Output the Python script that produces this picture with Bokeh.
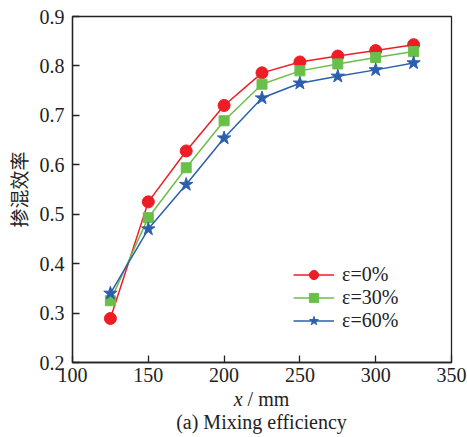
from bokeh.plotting import figure
from bokeh.models import Range1d, Legend, LegendItem, FixedTicker, Div
from bokeh.layouts import column
from bokeh.embed import file_html
from bokeh.resources import INLINE

x_mm = [125, 150, 175, 200, 225, 250, 275, 300, 325]
eff_0 = [0.289, 0.525, 0.628, 0.720, 0.786, 0.808, 0.820, 0.831, 0.843]
eff_30 = [0.325, 0.493, 0.594, 0.689, 0.763, 0.790, 0.804, 0.817, 0.829]
eff_60 = [0.340, 0.470, 0.560, 0.654, 0.735, 0.765, 0.779, 0.792, 0.806]
labels = ["ε=0%", "ε=30%", "ε=60%"]
x_ticks = [100, 150, 200, 250, 300, 350]
y_ticks = [0.2, 0.3, 0.4, 0.5, 0.6, 0.7, 0.8, 0.9]

SERIF = "'Liberation Serif', 'Times New Roman', serif"
FS = "20px"

p = figure(width=467, height=388, output_backend="svg", toolbar_location=None,
           x_range=Range1d(100, 350), y_range=Range1d(0.2, 0.9),
           min_border_left=72, min_border_right=16, min_border_top=16, min_border_bottom=26)
p.grid.visible = False
p.outline_line_color = "#222222"
p.outline_line_width = 1.3
p.background_fill_color = "white"
p.border_fill_color = "white"

for ax in (p.xaxis[0], p.yaxis[0]):
    ax.major_tick_in = 7
    ax.major_tick_out = 0
    ax.minor_tick_line_color = None
    ax.axis_line_color = "#222222"
    ax.axis_line_width = 1.3
    ax.major_tick_line_width = 1.3
    ax.major_tick_line_color = "#222222"
    ax.major_label_text_font = SERIF
    ax.major_label_text_font_size = FS
    ax.major_label_text_color = "#222222"

p.xaxis.ticker = FixedTicker(ticks=x_ticks)
p.yaxis.ticker = FixedTicker(ticks=y_ticks)
p.xaxis.major_label_standoff = 5
p.yaxis.major_label_standoff = 8
p.yaxis.axis_label = "掺混效率"
p.yaxis.axis_label_text_font = "Noto Sans CJK SC"
p.yaxis.axis_label_text_font_size = "19px"
p.yaxis.axis_label_text_font_style = "normal"
p.yaxis.axis_label_text_color = "#222222"
p.yaxis.axis_label_standoff = 5

red, green, blue = "#ee1c25", "#6abf4b", "#2b5fae"

l0 = p.line(x_mm, eff_0, color=red, line_width=1.5)
m0 = p.scatter(x_mm, eff_0, marker="circle", size=12, color=red)
l1 = p.line(x_mm, eff_30, color=green, line_width=1.5)
m1 = p.scatter(x_mm, eff_30, marker="square", size=10, color=green)
l2 = p.line(x_mm, eff_60, color=blue, line_width=1.5)
m2 = p.scatter(x_mm, eff_60, marker="star", size=14, color=blue)

legend = Legend(items=[LegendItem(label=labels[0], renderers=[l0, m0]),
                       LegendItem(label=labels[1], renderers=[l1, m1]),
                       LegendItem(label=labels[2], renderers=[l2, m2])],
                location=(221, 30), border_line_color=None, background_fill_alpha=0,
                padding=0, margin=0, spacing=0, glyph_width=41, glyph_height=23,
                label_standoff=8, label_text_font=SERIF, label_text_font_size=FS,
                label_text_color="#222222")
p.add_layout(legend, "center")

caption = Div(text="<i>x</i> / mm<br>(a) Mixing efficiency", width=467, height=49, margin=0,
              styles={"font-family": SERIF, "font-size": FS, "line-height": "23px",
                      "color": "#222222", "text-align": "center", "padding-left": "56px",
                      "box-sizing": "border-box", "width": "467px"})

layout = column(p, caption, spacing=0, margin=0)
open("out.html", "w").write(file_html(layout, INLINE))
